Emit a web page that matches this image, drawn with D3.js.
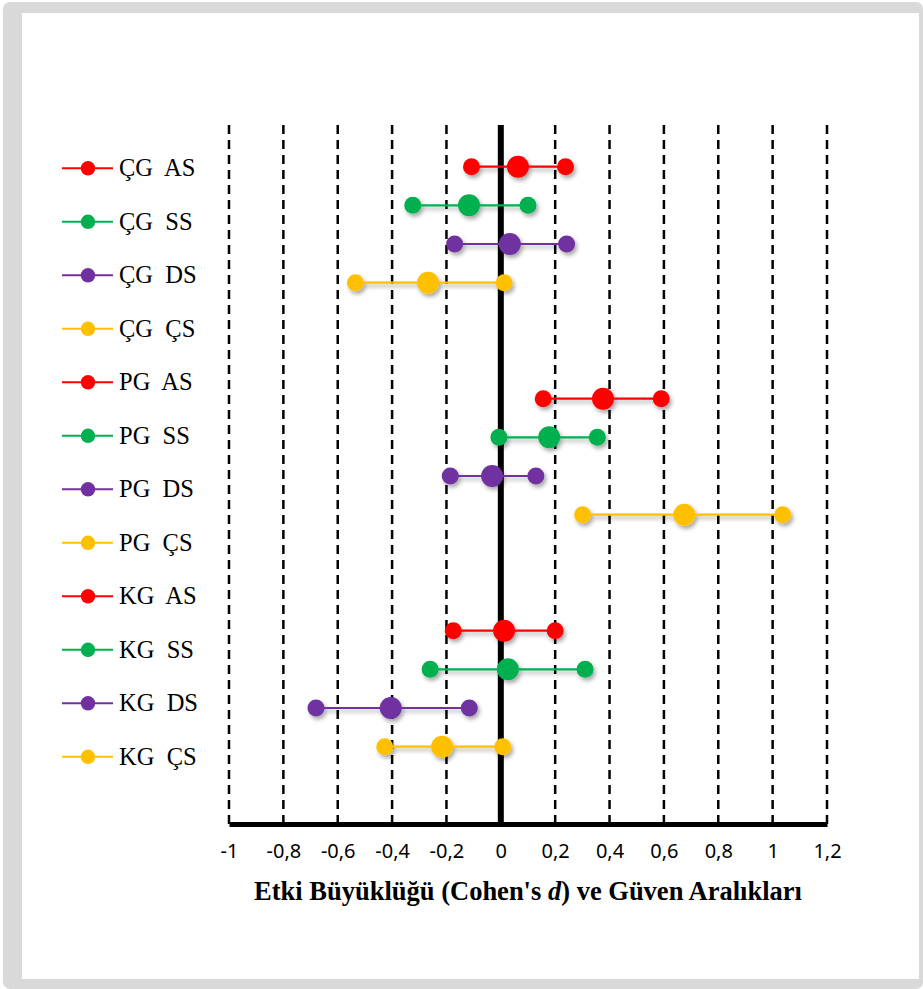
<!DOCTYPE html>
<html>
<head>
<meta charset="utf-8">
<script src="https://cdn.jsdelivr.net/npm/d3@7"></script>
<style>
  body { margin: 0; background: #fff; }
  svg { display: block; }
</style>
</head>
<body>
<svg id="chart" width="923" height="989"></svg>
<script>
// rows of the forest plot, top to bottom
var labels   = ["ÇG  AS", "ÇG  SS", "ÇG  DS", "ÇG  ÇS",
                "PG  AS", "PG  SS", "PG  DS", "PG  ÇS",
                "KG  AS", "KG  SS", "KG  DS", "KG  ÇS"];
// slot on the vertical axis (two empty slots between the groups)
var slots    = [0, 1, 2, 3, 6, 7, 8, 9, 12, 13, 14, 15];
// Cohen's d and its confidence interval
var effect   = [ 0.063, -0.117,  0.033, -0.268,  0.376,  0.178, -0.032,  0.675,  0.012,  0.026, -0.405, -0.216];
var lower    = [-0.108, -0.324, -0.170, -0.535,  0.156, -0.007, -0.186,  0.301, -0.175, -0.260, -0.680, -0.427];
var upper    = [ 0.238,  0.100,  0.242,  0.012,  0.590,  0.355,  0.129,  1.037,  0.200,  0.310, -0.116,  0.007];
var tickVals = [-1, -0.8, -0.6, -0.4, -0.2, 0, 0.2, 0.4, 0.6, 0.8, 1, 1.2];
var tickText = ["-1", "-0,8", "-0,6", "-0,4", "-0,2", "0", "0,2", "0,4", "0,6", "0,8", "1", "1,2"];

var palette = ["#ff0000", "#00b050", "#7030a0", "#ffc000"];
function colorOf(i) { return palette[i % 4]; }

var svg = d3.select("#chart");

// grey frame round the picture
svg.append("rect").attr("x", 3).attr("y", 2).attr("width", 920).attr("height", 987)
  .attr("rx", 7).attr("fill", "#d9d9d9");
svg.append("rect").attr("x", 22).attr("y", 13).attr("width", 897).attr("height", 966)
  .attr("fill", "#fff");

// soft shadow under the markers
var defs = svg.append("defs");
defs.append("filter").attr("id", "shadow")
  .attr("x", "-50%").attr("y", "-50%").attr("width", "200%").attr("height", "200%")
  .append("feDropShadow")
  .attr("dx", 2).attr("dy", 3).attr("stdDeviation", 2)
  .attr("flood-color", "#000").attr("flood-opacity", 0.35);

var x = d3.scaleLinear().domain([-1, 1.2]).range([229, 827]);
var y = d3.scaleLinear().domain([-1, 17]).range([128, 824]);

// vertical dashed grid lines
svg.append("g").selectAll("line")
  .data(tickVals.filter(function(d) { return d !== 0; }))
  .enter().append("line")
  .attr("x1", function(d) { return x(d); })
  .attr("x2", function(d) { return x(d); })
  .attr("y1", y(-1) - 3).attr("y2", y(17))
  .attr("stroke", "#000").attr("stroke-width", 2.5)
  .attr("stroke-dasharray", "9,6");

// x axis
var axis = d3.axisBottom(x)
  .tickValues(tickVals)
  .tickSize(0)
  .tickPadding(20)
  .tickFormat(function(d, i) { return tickText[i]; });

var gx = svg.append("g").attr("transform", "translate(0," + y(17) + ")").call(axis);
gx.select(".domain").attr("stroke", "#000").attr("stroke-width", 5);
gx.selectAll("text")
  .attr("font-family", "'Noto Sans', 'Liberation Sans', sans-serif")
  .attr("font-size", 20).attr("fill", "#000");

// zero line
svg.append("line")
  .attr("x1", x(0)).attr("x2", x(0))
  .attr("y1", y(-1) - 3).attr("y2", y(17))
  .attr("stroke", "#000").attr("stroke-width", 6);

// intervals and points
var rows = svg.append("g").selectAll("g")
  .data(labels)
  .enter().append("g")
  .attr("filter", "url(#shadow)");

rows.append("line")
  .attr("x1", function(d, i) { return x(lower[i]); })
  .attr("x2", function(d, i) { return x(upper[i]); })
  .attr("y1", function(d, i) { return y(slots[i]); })
  .attr("y2", function(d, i) { return y(slots[i]); })
  .attr("stroke", function(d, i) { return colorOf(i); })
  .attr("stroke-width", 2.2);

rows.append("circle")
  .attr("cx", function(d, i) { return x(lower[i]); })
  .attr("cy", function(d, i) { return y(slots[i]); })
  .attr("r", 8.5)
  .attr("fill", function(d, i) { return colorOf(i); });

rows.append("circle")
  .attr("cx", function(d, i) { return x(upper[i]); })
  .attr("cy", function(d, i) { return y(slots[i]); })
  .attr("r", 8.5)
  .attr("fill", function(d, i) { return colorOf(i); });

rows.append("circle")
  .attr("cx", function(d, i) { return x(effect[i]); })
  .attr("cy", function(d, i) { return y(slots[i]); })
  .attr("r", 11)
  .attr("fill", function(d, i) { return colorOf(i); });

// legend down the left side
var legend = svg.append("g").selectAll("g")
  .data(labels)
  .enter().append("g")
  .attr("transform", function(d, i) { return "translate(0," + (168.3 + i * 53.5) + ")"; });

legend.append("line")
  .attr("x1", 62).attr("x2", 113)
  .attr("stroke", function(d, i) { return colorOf(i); })
  .attr("stroke-width", 2);

legend.append("circle")
  .attr("cx", 88).attr("r", 7.2)
  .attr("fill", function(d, i) { return colorOf(i); });

legend.append("text")
  .attr("x", 119).attr("y", 8)
  .attr("font-family", "'Liberation Serif', 'Times New Roman', serif")
  .attr("font-size", 24.5)
  .style("white-space", "pre")
  .text(function(d) { return d; });

// axis title
var title = svg.append("text")
  .attr("x", (x(-1) + x(1.2)) / 2).attr("y", 900)
  .attr("text-anchor", "middle")
  .attr("font-family", "'Liberation Serif', 'Times New Roman', serif")
  .attr("font-size", 26.5).attr("font-weight", "bold");
title.append("tspan").text("Etki Büyüklüğü (Cohen's ");
title.append("tspan").attr("font-style", "italic").text("d");
title.append("tspan").text(") ve Güven Aralıkları");
</script>
</body>
</html>
